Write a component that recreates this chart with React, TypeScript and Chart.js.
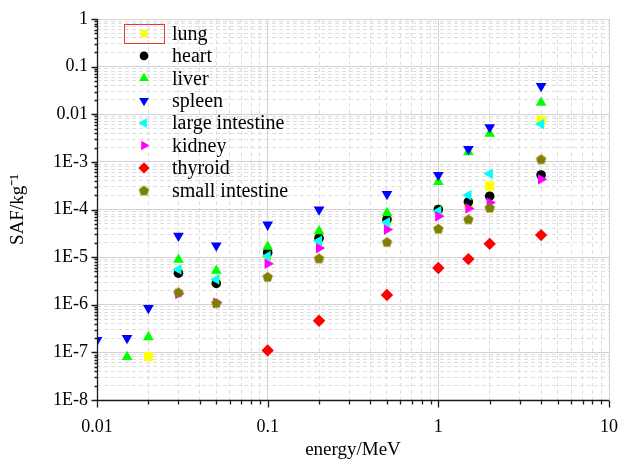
import React, { useEffect, useRef } from 'react';
import { Chart, registerables } from 'chart.js';
import { drawPoint } from 'chart.js/helpers';

Chart.register(...registerables);

// ---------- data ----------
const energies = [0.01, 0.015, 0.02, 0.03, 0.05, 0.1, 0.2, 0.5, 1, 1.5, 2, 4];

const lung = [null, null, 8.2e-8, 5.0e-6, 3.1e-6, 1.1e-5, 2.5e-5, 6.0e-5, 1.0e-4, 1.3e-4, 3.1e-4, 7.5e-3];
const heart = [null, null, null, 4.6e-6, 2.8e-6, 1.25e-5, 2.5e-5, 6.2e-5, 1.0e-4, 1.45e-4, 1.9e-4, 5.3e-4];
const liver = [null, 8.0e-8, 2.1e-7, 8.8e-6, 5.2e-6, 1.65e-5, 3.5e-5, 8.5e-5, 3.8e-4, 1.6e-3, 3.9e-3, 1.75e-2];
const spleen = [1.8e-7, 2.0e-7, 8.5e-7, 2.8e-5, 1.75e-5, 4.8e-5, 1.0e-4, 2.1e-4, 5.3e-4, 1.85e-3, 5.3e-3, 3.9e-2];
const largeIntestine = [null, null, null, 5.5e-6, 3.4e-6, 1.05e-5, 2.2e-5, 5.4e-5, 9.3e-5, 2.0e-4, 5.6e-4, 6.2e-3];
const kidney = [null, null, null, 1.7e-6, 1.1e-6, 7.3e-6, 1.55e-5, 3.8e-5, 7.2e-5, 1.05e-4, 1.4e-4, 4.3e-4];
const thyroid = [null, null, null, null, null, 1.1e-7, 4.6e-7, 1.6e-6, 5.9e-6, 9.1e-6, 1.9e-5, 2.9e-5];
const smallIntestine = [null, null, null, 1.85e-6, 1.1e-6, 3.9e-6, 9.5e-6, 2.1e-5, 4.0e-5, 6.3e-5, 1.1e-4, 1.15e-3];

const seriesNames = ['lung', 'heart', 'liver', 'spleen', 'large intestine', 'kidney', 'thyroid', 'small intestine'];
const seriesValues = [lung, heart, liver, spleen, largeIntestine, kidney, thyroid, smallIntestine];
const seriesColors = ['#ffff00', '#000000', '#00ff00', '#0000ff', '#00ffff', '#ff00ff', '#ff0000', '#808000'];

const xTickValues = [0.01, 0.1, 1, 10];
const xTickLabels = ['0.01', '0.1', '1', '10'];
const yTickValues = [1e-8, 1e-7, 1e-6, 1e-5, 1e-4, 1e-3, 1e-2, 1e-1, 1];
const yTickLabels = ['1E-8', '1E-7', '1E-6', '1E-5', '1E-4', '1E-3', '0.01', '0.1', '1'];

const xTitle = 'energy/MeV';
const yTitle = 'SAF/kg\u207B\u00B9';

// ---------- helpers ----------
const FONT = '"Liberation Serif", "Times New Roman", serif';

function makePentagon(color: string, r: number): HTMLCanvasElement {
  const size = Math.ceil(r * 2 + 2);
  const c = document.createElement('canvas');
  c.width = size;
  c.height = size;
  const g = c.getContext('2d')!;
  g.fillStyle = color;
  g.beginPath();
  for (let i = 0; i < 5; i++) {
    const a = -Math.PI / 2 + (i * 2 * Math.PI) / 5;
    const px = size / 2 + Math.cos(a) * r;
    const py = size / 2 + 0.6 + Math.sin(a) * r;
    if (i === 0) g.moveTo(px, py);
    else g.lineTo(px, py);
  }
  g.closePath();
  g.fill();
  return c;
}

function isDecade(v: number) {
  const l = Math.log10(v);
  return Math.abs(l - Math.round(l)) < 1e-9;
}

function logTicks(min: number, max: number) {
  const out: { value: number; major: boolean }[] = [];
  const lo = Math.floor(Math.log10(min));
  const hi = Math.ceil(Math.log10(max));
  for (let e = lo; e <= hi; e++) {
    for (let k = 1; k <= 9; k++) {
      const v = parseFloat((k * Math.pow(10, e)).toPrecision(6));
      if (v >= min * 0.999999 && v <= max * 1.000001) out.push({ value: v, major: k === 1 });
    }
  }
  return out;
}

function labelFor(values: number[], labels: string[], v: number) {
  const i = values.findIndex((t) => Math.abs(Math.log10(t) - Math.log10(v)) < 1e-6);
  return i >= 0 ? labels[i] : '';
}

export default function App() {
  const ref = useRef<HTMLCanvasElement>(null);

  useEffect(() => {
    if (!ref.current) return;

    const styles: any[] = [
      { pointStyle: 'rect', rotation: 0, radius: 6.4 },
      { pointStyle: 'circle', rotation: 0, radius: 4.8 },
      { pointStyle: 'triangle', rotation: 0, radius: 6.2 },
      { pointStyle: 'triangle', rotation: 180, radius: 6.2 },
      { pointStyle: 'triangle', rotation: 270, radius: 6.2 },
      { pointStyle: 'triangle', rotation: 90, radius: 6.2 },
      { pointStyle: 'rectRot', rotation: 0, radius: 6.2 },
      { pointStyle: makePentagon('#808000', 5.4), rotation: 0, radius: 5.4 },
    ];

    const datasets = seriesNames.map((name, i) => ({
      label: name,
      data: energies
        .map((e, j) => ({ x: e, y: seriesValues[i][j] }))
        .filter((p) => p.y !== null),
      backgroundColor: seriesColors[i],
      borderColor: seriesColors[i],
      borderWidth: 0,
      pointStyle: styles[i].pointStyle,
      rotation: styles[i].rotation,
      pointRadius: styles[i].radius,
      pointHoverRadius: styles[i].radius,
      order: seriesNames.length - i,
      clip: 0,
    }));

    const overlay = {
      id: 'overlay',
      afterDraw(chart: any) {
        const { ctx, chartArea } = chart;
        const { left, right, top, bottom } = chartArea;
        const xs = chart.scales.x;
        const ys = chart.scales.y;
        ctx.save();
        ctx.strokeStyle = '#1a1a1a';
        ctx.lineWidth = 1.3;
        ctx.beginPath();
        ctx.moveTo(left + 0.5, top);
        ctx.lineTo(left + 0.5, bottom + 0.5);
        ctx.lineTo(right, bottom + 0.5);
        // y ticks
        for (const t of ys.ticks) {
          const py = Math.round(ys.getPixelForValue(t.value)) + 0.5;
          const len = isDecade(t.value) ? 6 : 3;
          ctx.moveTo(left + 0.5 - len, py);
          ctx.lineTo(left + 0.5, py);
        }
        // x ticks
        for (const t of xs.ticks) {
          const px = Math.round(xs.getPixelForValue(t.value)) + 0.5;
          const len = isDecade(t.value) ? 7 : 4;
          ctx.moveTo(px, bottom + 0.5);
          ctx.lineTo(px, bottom + 0.5 + len);
        }
        ctx.stroke();

        // legend
        const lx = 144;
        const ty = 33.5;
        const dy = 22.4;
        ctx.font = '20px ' + FONT;
        ctx.textBaseline = 'middle';
        ctx.textAlign = 'left';
        chart.data.datasets.forEach((ds: any, i: number) => {
          const y = ty + i * dy;
          ctx.fillStyle = ds.backgroundColor;
          ctx.strokeStyle = ds.backgroundColor;
          drawPoint(ctx, {
            pointStyle: ds.pointStyle,
            rotation: ds.rotation,
            radius: i === 0 ? 5 : ds.pointRadius * 0.9,
            borderWidth: 0,
          } as any, lx, y);
          ctx.fillStyle = '#000';
          ctx.fillText(ds.label, 172, y + 1);
        });
        // selection box around first legend marker
        ctx.strokeStyle = '#e53935';
        ctx.lineWidth = 1;
        ctx.strokeRect(124.5, 24.5, 40, 19);
        ctx.restore();
      },
    };

    const gridColor = (c: any) => (c.tick && isDecade(c.tick.value) ? '#d2d2d2' : '#dedede');
    const gridDash = (c: any) => (c.tick && !isDecade(c.tick.value) ? [4, 3] : []);

    const chart = new Chart(ref.current, {
      type: 'scatter',
      data: { datasets },
      plugins: [overlay],
      options: {
        animation: false,
        responsive: true,
        maintainAspectRatio: false,
        layout: { padding: { top: 19, right: 16, left: 0, bottom: 0 } },
        plugins: { legend: { display: false }, tooltip: { enabled: false } },
        scales: {
          x: {
            type: 'logarithmic',
            min: 0.01,
            max: 10,
            afterFit: (s: any) => {
              s.height = 66;
              s.paddingLeft = 0;
              s.paddingRight = 0;
            },
            afterBuildTicks: (s: any) => {
              s.ticks = logTicks(0.01, 10);
            },
            grid: { color: gridColor, lineWidth: 1, drawTicks: false },
            border: { display: false, dash: gridDash },
            ticks: {
              autoSkip: false,
              maxRotation: 0,
              padding: 16,
              color: '#000',
              font: { family: FONT, size: 18 },
              callback: (v: any) => labelFor(xTickValues, xTickLabels, Number(v)),
            },
            title: {
              display: true,
              text: xTitle,
              color: '#000',
              font: { family: FONT, size: 19 },
              padding: { top: 0, bottom: 5 },
            },
          },
          y: {
            type: 'logarithmic',
            min: 1e-8,
            max: 1,
            afterFit: (s: any) => {
              s.width = 97;
              s.paddingTop = 0;
              s.paddingBottom = 0;
            },
            afterBuildTicks: (s: any) => {
              s.ticks = logTicks(1e-8, 1);
            },
            grid: { color: gridColor, lineWidth: 1, drawTicks: false },
            border: { display: false, dash: gridDash },
            ticks: {
              autoSkip: false,
              padding: 9,
              color: '#000',
              font: { family: FONT, size: 18 },
              callback: (v: any) => labelFor(yTickValues, yTickLabels, Number(v)),
            },
            title: {
              display: true,
              text: yTitle,
              color: '#000',
              font: { family: FONT, size: 19 },
              padding: { top: 7, bottom: 0 },
            },
          },
        },
      },
    } as any);

    return () => chart.destroy();
  }, []);

  return (
    <div style={{ position: 'absolute', left: 0, top: 0, width: 625, height: 466 }}>
      <canvas ref={ref} />
    </div>
  );
}
